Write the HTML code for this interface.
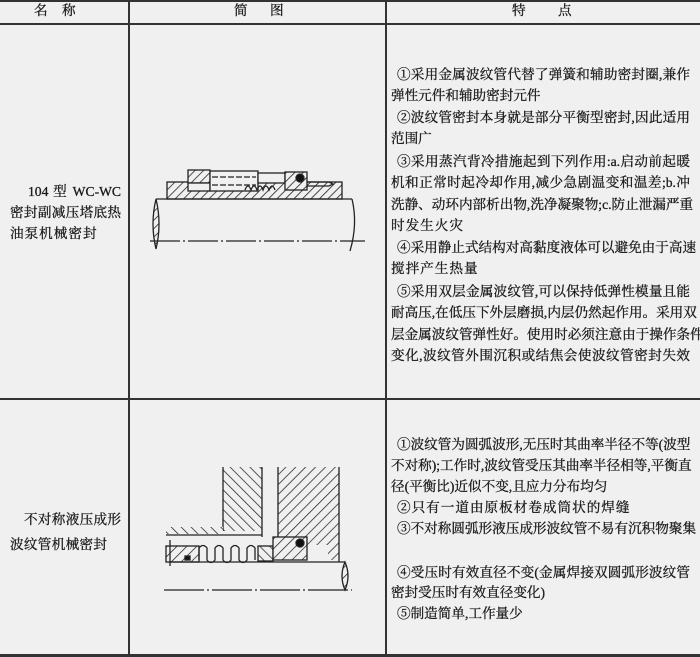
<!DOCTYPE html>
<html><head><meta charset="utf-8"><style>
body{margin:0;background:#f0f0f0;}
#c{position:relative;width:700px;height:657px;overflow:hidden;background:#f0f0f0;font-family:"Liberation Serif","Noto Serif CJK SC","Noto Sans CJK SC",serif;color:#1a1a1a;font-weight:normal;}
.h{position:absolute;background:#333;}
.t{position:absolute;font-size:13.6px;line-height:16px;white-space:nowrap;-webkit-text-stroke:0.3px #1a1a1a;}
.j{text-align:justify;text-align-last:justify;}
</style></head><body><div id="c">
<div class="h" style="left:0;top:0;width:700px;height:2px"></div>
<div class="h" style="left:0;top:23px;width:700px;height:1.5px"></div>
<div class="h" style="left:0;top:398px;width:700px;height:1.5px"></div>
<div class="h" style="left:0;top:654px;width:700px;height:3px"></div>
<div class="h" style="left:128px;top:0;width:1.5px;height:657px"></div>
<div class="h" style="left:385px;top:0;width:1.5px;height:657px"></div>

<div class="t" style="left:34px;top:3px">名</div><div class="t" style="left:62px;top:3px">称</div>
<div class="t" style="left:234px;top:3px">简</div><div class="t" style="left:270px;top:3px">图</div>
<div class="t" style="left:512px;top:3px">特</div><div class="t" style="left:558px;top:3px">点</div>

<div class="t j" style="left:28px;top:184px;width:93px">104 型 WC-WC</div>
<div class="t j" style="left:10px;top:205px;width:111px">密封副减压塔底热</div>
<div class="t" style="left:10px;top:226px;letter-spacing:1px">油泵机械密封</div>
<div class="t j" style="left:24px;top:512px;width:97px">不对称液压成形</div>
<div class="t j" style="left:10px;top:537px;width:97px">波纹管机械密封</div>

<div class="t j" style="left:397px;top:67px;width:293px">①采用金属波纹管代替了弹簧和辅助密封圈,兼作</div>
<div class="t" style="left:391px;top:88px">弹性元件和辅助密封元件</div>
<div class="t j" style="left:397px;top:110px;width:293px">②波纹管密封本身就是部分平衡型密封,因此适用</div>
<div class="t" style="left:391px;top:131px">范围广</div>
<div class="t j" style="left:397px;top:154px;width:293px">③采用蒸汽背冷措施起到下列作用:a.启动前起暖</div>
<div class="t j" style="left:391px;top:175px;width:299px">机和正常时起冷却作用,减少急剧温变和温差;b.冲</div>
<div class="t j" style="left:391px;top:197px;width:299px">洗静、动环内部析出物,洗净凝聚物;c.防止泄漏严重</div>
<div class="t" style="left:391px;top:218px;letter-spacing:1px">时发生火灾</div>
<div class="t j" style="left:397px;top:240px;width:293px">④采用静止式结构对高黏度液体可以避免由于高速</div>
<div class="t" style="left:391px;top:261px;letter-spacing:1px">搅拌产生热量</div>
<div class="t j" style="left:397px;top:284px;width:293px">⑤采用双层金属波纹管,可以保持低弹性模量且能</div>
<div class="t j" style="left:391px;top:305px;width:299px">耐高压,在低压下外层磨损,内层仍然起作用。采用双</div>
<div class="t j" style="left:391px;top:327px;width:299px">层金属波纹管弹性好。使用时必须注意由于操作条件</div>
<div class="t j" style="left:391px;top:348px;width:299px">变化,波纹管外围沉积或结焦会使波纹管密封失效</div>

<div class="t j" style="left:397px;top:437px;width:293px">①波纹管为圆弧波形,无压时其曲率半径不等(波型</div>
<div class="t j" style="left:391px;top:458px;width:299px">不对称);工作时,波纹管受压其曲率半径相等,平衡直</div>
<div class="t" style="left:391px;top:479px">径(平衡比)近似不变,且应力分布均匀</div>
<div class="t" style="left:397px;top:500px;letter-spacing:1px">②只有一道由原板材卷成筒状的焊缝</div>
<div class="t j" style="left:397px;top:521px;width:293px">③不对称圆弧形液压成形波纹管不易有沉积物聚集</div>
<div class="t j" style="left:397px;top:565px;width:293px">④受压时有效直径不变(金属焊接双圆弧形波纹管</div>
<div class="t" style="left:391px;top:585px">密封受压时有效直径变化)</div>
<div class="t" style="left:397px;top:606px">⑤制造简单,工作量少</div>

<svg style="position:absolute;left:0;top:0" width="700" height="657">
<defs>
<pattern id="hh" width="6" height="6" patternUnits="userSpaceOnUse" patternTransform="rotate(45)"><rect width="6" height="6" fill="#f0f0f0"/><line x1="0" y1="0" x2="0" y2="6" stroke="#222" stroke-width="1.6"/></pattern>
<pattern id="hb" width="7" height="7" patternUnits="userSpaceOnUse" patternTransform="rotate(-45)"><rect width="7" height="7" fill="#f0f0f0"/><line x1="0" y1="0" x2="0" y2="7" stroke="#222" stroke-width="1.5"/></pattern>
<pattern id="hc" width="7" height="7" patternUnits="userSpaceOnUse" patternTransform="rotate(45)"><rect width="7" height="7" fill="#f0f0f0"/><line x1="0" y1="0" x2="0" y2="7" stroke="#222" stroke-width="1.5"/></pattern>
</defs>
<g stroke="#222" stroke-width="1.3" fill="none">
<!-- drawing 1 -->
<rect x="167" y="182" width="175" height="17" fill="url(#hh)"/>
<rect x="188" y="170" width="22" height="13" fill="url(#hh)"/>
<rect x="188" y="183" width="22" height="8" fill="#f0f0f0"/>
<rect x="210" y="171" width="48" height="20" fill="#f0f0f0"/>
<line x1="212" y1="177" x2="256" y2="177" stroke-dasharray="6,2"/>
<line x1="212" y1="185" x2="256" y2="185" stroke-dasharray="6,2"/>
<rect x="258" y="173" width="27" height="10" fill="#f0f0f0"/>
<path d="M245 190 q3 -8 6 0 q3 -8 6 0 q3 -8 6 0 q3 -8 6 0 q3 -8 6 0"/>
<rect x="285" y="172" width="22" height="18" fill="url(#hh)"/>
<circle cx="300" cy="178" r="4" fill="#111"/>
<path d="M307 182 h22 l4 2 l-4 2 h-22"/>
<line x1="156" y1="199" x2="352" y2="199"/>
<path d="M156 199 q-6 25 0 50 q6 -25 0 -50z" fill="url(#hh)"/>
<path d="M352 199 q6 25 -2 52"/>
<line x1="150" y1="241" x2="365" y2="241" stroke-dasharray="30,3,2,3"/>
<!-- drawing 2 -->
<path d="M223 467 V531 H262 V467z" fill="url(#hb)" stroke="none"/>
<path d="M278 467 H339 V560 H328 V545 H307 V537 H278z" fill="url(#hc)" stroke="none"/>
<path d="M223 467 V531 M262 467 V537 M278 467 V537 M339 467 V562"/>
<rect x="166" y="527" width="57" height="7" fill="url(#hb)" stroke="none"/>
<line x1="166" y1="535" x2="262" y2="535"/>
<rect x="166" y="546" width="33" height="16" fill="url(#hc)"/>
<rect x="185" y="556" width="5" height="4" fill="#111"/>
<path d="M199 560 v-12 q4 -5 8 0 v12 q4 5 8 0 v-12 q4 -5 8 0 v12 q4 5 8 0 v-12 q4 -5 8 0 v12 q4 5 8 0 v-12 q4 -5 8 0 v12"/>
<rect x="258" y="546" width="15" height="15" fill="url(#hb)"/>
<rect x="273" y="537" width="34" height="23" fill="url(#hc)"/>
<circle cx="300" cy="543" r="4" fill="#111"/>
<line x1="170" y1="562" x2="345" y2="562"/>
<line x1="170" y1="540" x2="170" y2="566"/>
<path d="M345 562 q-6 14 0 28 q6 -14 0 -28z" fill="url(#hc)"/>
<line x1="164" y1="590" x2="352" y2="590" stroke-dasharray="40,3,2,3"/>
</g>
</svg>
</div></body></html>
